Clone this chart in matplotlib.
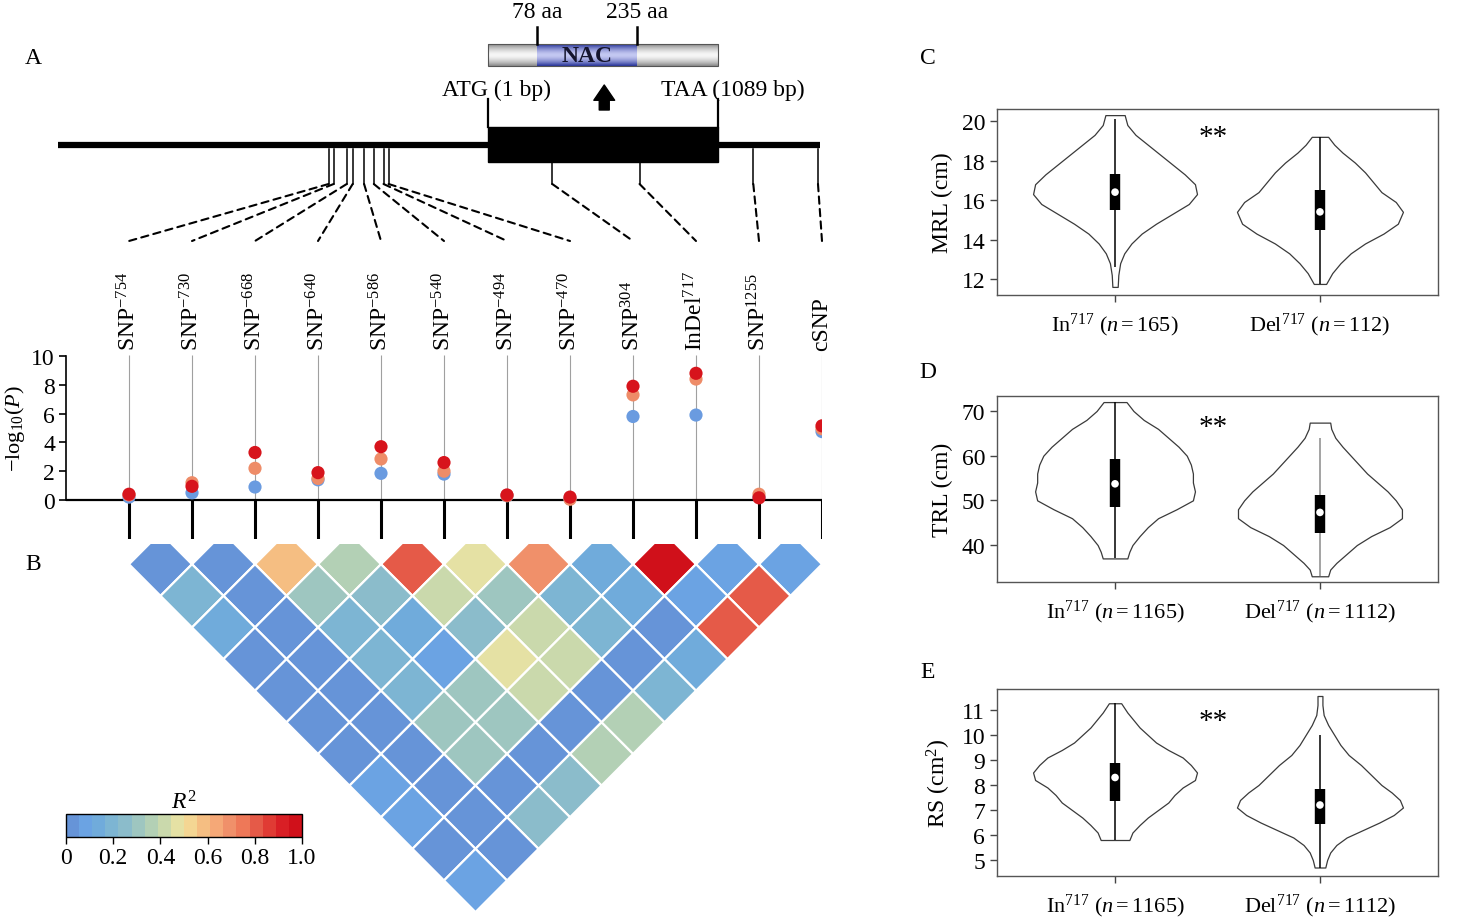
import numpy as np
import matplotlib
matplotlib.use('Agg')
import matplotlib.pyplot as plt
from matplotlib.colors import ListedColormap, Normalize, LinearSegmentedColormap
from matplotlib.patches import Polygon, Rectangle, ConnectionPatch, FancyArrowPatch
from matplotlib.cm import ScalarMappable

plt.rcParams['font.family'] = ['Liberation Serif', 'DejaVu Serif']
plt.rcParams['mathtext.fontset'] = 'custom'
plt.rcParams['mathtext.rm'] = 'Liberation Serif'
plt.rcParams['mathtext.it'] = 'Liberation Serif:italic'
plt.rcParams['mathtext.bf'] = 'Liberation Serif:bold'

# ---- data ----
marker_labels = [r'SNP$^{-754}$', r'SNP$^{-730}$', r'SNP$^{-668}$', r'SNP$^{-640}$',
                 r'SNP$^{-586}$', r'SNP$^{-540}$', r'SNP$^{-494}$', r'SNP$^{-470}$',
                 r'SNP$^{304}$', r'InDel$^{717}$', r'SNP$^{1255}$', 'cSNP']
marker_bp = [-754, -730, -668, -640, -586, -540, -494, -470, 304, 717, 1255, 1561]

# -log10(P) for the three traits
logp_blue = [0.2, 0.5, 0.9, 1.4, 1.85, 1.8, 0.3, 0.1, 5.8, 5.9, 0.2, 4.75]
logp_orange = [0.35, 1.2, 2.2, 1.5, 2.85, 2.0, 0.3, 0.05, 7.3, 8.4, 0.4, 4.95]
logp_red = [0.4, 0.95, 3.3, 1.9, 3.7, 2.6, 0.35, 0.2, 7.9, 8.8, 0.15, 5.15]

# LD r2, one list per diagonal (j - i = 1, 2, ...)
ld_rows = [
    [0.03, 0.03, 0.58, 0.36, 0.80, 0.47, 0.69, 0.12, 0.97, 0.08, 0.08],
    [0.19, 0.03, 0.31, 0.25, 0.42, 0.31, 0.19, 0.14, 0.08, 0.80],
    [0.14, 0.03, 0.19, 0.14, 0.25, 0.42, 0.19, 0.03, 0.80],
    [0.03, 0.03, 0.19, 0.08, 0.47, 0.42, 0.03, 0.14],
    [0.03, 0.03, 0.19, 0.31, 0.42, 0.03, 0.19],
    [0.03, 0.03, 0.31, 0.31, 0.03, 0.36],
    [0.03, 0.03, 0.31, 0.03, 0.36],
    [0.08, 0.03, 0.03, 0.25],
    [0.08, 0.03, 0.25],
    [0.03, 0.03],
    [0.08],
]
ld_colors = ['#6694d8', '#6ba3e3', '#70abdb', '#7db5d3', '#8bbccb', '#9ec6c0',
             '#b3d0b5', '#cad9ac', '#e5e1a4', '#f4d693', '#f5be82', '#f5a877',
             '#f0906a', '#ee7858', '#e55a48', '#e03b34', '#d91f25', '#d0101a']

# violin panels: outline profile (value, half width) + box stats
ylabels = ['MRL (cm)', 'TRL (cm)', r'RS (cm$^2$)']
xlabels = [[r'In$^{717}$ ($n=165$)', r'Del$^{717}$ ($n=112$)'],
           [r'In$^{717}$ ($n=1165$)', r'Del$^{717}$ ($n=1112$)'],
           [r'In$^{717}$ ($n=1165$)', r'Del$^{717}$ ($n=1112$)']]
yticks = [[12, 14, 16, 18, 20], [40, 50, 60, 70], [5, 6, 7, 8, 9, 10, 11]]
ylims = [(11.19, 20.61), (31.72, 73.36), (4.36, 11.84)]
star_y = [19.2, 66.4, 10.55]

mrl_in_y = [11.6, 12.2, 12.8, 13.3, 13.8, 14.3, 14.8, 15.3, 15.8, 16.3, 16.8, 17.3, 17.8, 18.3, 18.8, 19.3, 19.8, 20.3]
mrl_in_w = [0.013, 0.016, 0.025, 0.045, 0.08, 0.13, 0.20, 0.28, 0.36, 0.40, 0.39, 0.34, 0.28, 0.22, 0.16, 0.10, 0.06, 0.047]
mrl_del_y = [11.75, 12.3, 12.8, 13.3, 13.8, 14.3, 14.8, 15.4, 15.9, 16.4, 16.9, 17.4, 17.9, 18.4, 18.8, 19.2]
mrl_del_w = [0.03, 0.06, 0.10, 0.15, 0.22, 0.31, 0.38, 0.405, 0.37, 0.30, 0.26, 0.22, 0.17, 0.11, 0.07, 0.04]
trl_in_y = [37, 38.5, 40, 42, 44, 46, 48, 50, 52, 54, 56, 58, 60, 62, 64, 66, 68, 70, 72]
trl_in_w = [0.06, 0.07, 0.085, 0.12, 0.16, 0.21, 0.30, 0.38, 0.39, 0.38, 0.38, 0.37, 0.35, 0.31, 0.26, 0.21, 0.14, 0.09, 0.056]
trl_del_y = [33, 34.5, 36, 38, 40, 42, 44, 46, 48, 50, 52, 54, 56, 58, 60, 62, 64, 66, 67.4]
trl_del_w = [0.04, 0.05, 0.08, 0.13, 0.18, 0.25, 0.34, 0.40, 0.40, 0.37, 0.33, 0.28, 0.23, 0.19, 0.15, 0.11, 0.075, 0.055, 0.05]
rs_in_y = [5.8, 6.1, 6.4, 6.7, 7.0, 7.3, 7.6, 7.9, 8.2, 8.5, 8.8, 9.1, 9.4, 9.7, 10.0, 10.3, 10.6, 10.9, 11.27]
rs_in_w = [0.07, 0.085, 0.12, 0.16, 0.21, 0.26, 0.29, 0.33, 0.39, 0.40, 0.37, 0.33, 0.26, 0.20, 0.16, 0.12, 0.09, 0.06, 0.03]
rs_del_y = [4.7, 5.0, 5.3, 5.6, 5.9, 6.2, 6.5, 6.8, 7.1, 7.4, 7.7, 8.0, 8.4, 8.8, 9.2, 9.6, 10.0, 10.4, 10.8, 11.2, 11.56]
rs_del_w = [0.026, 0.035, 0.05, 0.08, 0.13, 0.21, 0.29, 0.36, 0.405, 0.39, 0.35, 0.30, 0.25, 0.20, 0.14, 0.10, 0.07, 0.04, 0.018, 0.012, 0.012]
profiles = [[(mrl_in_y, mrl_in_w), (mrl_del_y, mrl_del_w)],
            [(trl_in_y, trl_in_w), (trl_del_y, trl_del_w)],
            [(rs_in_y, rs_in_w), (rs_del_y, rs_del_w)]]
# (whisker low, q1, median, q3, whisker high)
boxes = [[(12.6, 15.5, 16.4, 17.3, 20.1), (11.75, 14.5, 15.4, 16.5, 19.2)],
         [(37, 48.5, 53.7, 59.3, 72), (33, 42.8, 47.3, 51.3, 64)],
         [(5.8, 7.35, 8.3, 8.9, 11.27), (4.7, 6.45, 7.2, 7.85, 10.0)]]
whisker_colors = [['black', 'black'], ['black', '#8a8a8a'], ['black', 'black']]

# gene model (bp)
gene_start, gene_end = -2034, 1570
cds_start, cds_end = 1, 1089
nac_start, nac_end = 78, 235  # aa

W, H = 1471, 920
fig = plt.figure(figsize=(W / 100, H / 100), dpi=100)


def add_ax(x0, y0, x1, y1):
    return fig.add_axes([x0 / W, 1 - y1 / H, (x1 - x0) / W, (y1 - y0) / H])


FS = 16

# ---- A: gene structure ----
axg = add_ax(66, 0, 822, 242)
axg.axis('off')
axg.plot([gene_start, gene_end], [146, 146], color='black', lw=4.5, solid_capstyle='butt', clip_on=False)
axg.add_patch(Rectangle((cds_start, 128), cds_end - cds_start, 35, color='black'))
axg.plot([cds_start, cds_start], [100, 128], color='black', lw=1.6)
axg.plot([cds_end, cds_end], [100, 128], color='black', lw=1.6)
axg.text(40, 90, 'ATG (1 bp)', ha='center', va='center', fontsize=FS + 1)
axg.text(1160, 90, 'TAA (1089 bp)', ha='center', va='center', fontsize=FS + 1)

# protein bar with NAC domain
grad = np.abs(np.linspace(-1, 1, 40))[:, None] ** 1.6
grey_cm = LinearSegmentedColormap.from_list('g', ['#f6f6f6', '#8c8c8c'])
blue_cm = LinearSegmentedColormap.from_list('b', ['#c4c8f2', '#28359a'])
axg.imshow(grad, extent=[0, nac_start * 3, 67, 45], cmap=grey_cm, aspect='auto', interpolation='bilinear')
axg.imshow(grad, extent=[nac_end * 3, cds_end, 67, 45], cmap=grey_cm, aspect='auto', interpolation='bilinear')
axg.imshow(grad, extent=[nac_start * 3, nac_end * 3, 67, 45], cmap=blue_cm, aspect='auto', interpolation='bilinear')
axg.add_patch(Rectangle((0, 45), cds_end, 22, fill=False, ec='#555555', lw=0.8))
for aa in (nac_start, nac_end):
    axg.plot([aa * 3, aa * 3], [28, 45], color='black', lw=1.8)
    axg.text(aa * 3, 12, f'{aa} aa', ha='center', va='center', fontsize=FS + 1)
axg.text((nac_start + nac_end) * 1.5, 56, 'NAC', ha='center', va='center', fontsize=17,
         fontweight='bold', color='#15152e')
axg.add_patch(FancyArrowPatch((550, 111), (550, 86),
                              arrowstyle='simple,head_length=0.55,head_width=0.75,tail_width=0.36',
                              mutation_scale=20, color='black', shrinkA=0, shrinkB=0))
axg.set_xlim(-1996, 1580)
axg.set_ylim(242, 0)

for bp in marker_bp:
    top = 163 if cds_start <= bp <= cds_end else 150
    axg.plot([bp, bp], [top, 185], color='black', lw=1.1)

# ---- association ----
axs = add_ax(66, 242, 822, 540)
xk = np.arange(len(marker_labels))
axs.set_xlim(-1, 11)
axs.set_ylim(-2.71, 17.99)
for s in ['top', 'right', 'bottom']:
    axs.spines[s].set_visible(False)
axs.spines['left'].set_bounds(0, 10)
axs.spines['left'].set_linewidth(1.2)
axs.set_xticks([])
axs.set_yticks(range(0, 11, 2))
axs.tick_params(axis='y', labelsize=FS + 1, length=5, width=1.2, pad=3)
axs.axhline(0, color='black', lw=1.6)
axs.vlines(xk, -2.71, 0, color='black', lw=2.2)
axs.vlines(xk, 0, 10.1, color='#a0a0a0', lw=0.8, zorder=1)
axs.scatter(xk, logp_blue, s=90, color='#6a9be0', zorder=3, edgecolor='none')
axs.scatter(xk, logp_orange, s=90, color='#ee8c68', zorder=4, edgecolor='none')
axs.scatter(xk, logp_red, s=90, color='#d7141c', zorder=5, edgecolor='none')
for k, lab in enumerate(marker_labels):
    axs.text(k, 10.45, lab, rotation=90, ha='center', va='bottom', fontsize=FS + 1)
axs.set_ylabel(r'$-$log$_{10}$($P$)', fontsize=FS)
axs.yaxis.set_label_coords(-0.051, (5 + 2.71) / 20.7)

for k, bp in enumerate(marker_bp):
    con = ConnectionPatch(xyA=(bp, 185), coordsA=axg.transData, xyB=(k, 17.99), coordsB=axs.transData,
                          ls=(0, (3.5, 2.5)), lw=1.5, color='black')
    fig.add_artist(con)

# ---- B: LD heatmap ----
cmap = ListedColormap(ld_colors)
norm = Normalize(0, 1)
axh = add_ax(66, 545, 822, 915)
axh.axis('off')
for d, row in enumerate(ld_rows):
    for i, r2 in enumerate(row):
        j = i + d + 1
        xc, yc = (i + j) / 2, -(j - i) / 2
        axh.add_patch(Polygon([(xc - 0.5, yc), (xc, yc + 0.5), (xc + 0.5, yc), (xc, yc - 0.5)],
                              closed=True, fc=cmap(norm(r2)), ec='white', lw=1.6))
axh.set_xlim(-1, 11)
axh.set_ylim(-6.03, -0.18)

cax = add_ax(66, 815, 302, 838)
cb = fig.colorbar(ScalarMappable(norm=norm, cmap=cmap), cax=cax, orientation='horizontal',
                  ticks=[0, 0.2, 0.4, 0.6, 0.8, 1.0])
cb.ax.set_xticklabels(['0', '0.2', '0.4', '0.6', '0.8', '1.0'])
cb.ax.tick_params(labelsize=FS + 1, length=5, width=1, pad=2)
cb.outline.set_linewidth(1)
cax.set_title('$R^2$', fontsize=FS + 1, pad=4)

# ---- C-E: violins ----
violin_boxes = [(110, 296), (397, 583), (690, 877)]
for p in range(3):
    y0, y1 = violin_boxes[p]
    ax = add_ax(997, y0, 1438, y1)
    stats = []
    for (yy, ww), b in zip(profiles[p], boxes[p]):
        stats.append({'coords': np.array(yy), 'vals': np.array(ww), 'mean': b[2], 'median': b[2],
                      'min': b[0], 'max': b[4], 'quantiles': []})
    parts = ax.violin(stats, positions=[1, 2], widths=[2 * max(w) for _, w in profiles[p]],
                      showmeans=False, showextrema=False, showmedians=False)
    for body in parts['bodies']:
        body.set_facecolor('white')
        body.set_edgecolor('#3a3a3a')
        body.set_linewidth(0.9)
        body.set_alpha(1)
    for pos, b, wc in zip([1, 2], boxes[p], whisker_colors[p]):
        ax.vlines(pos, b[0], b[4], color=wc, lw=1.1, zorder=3)
        ax.vlines(pos, b[1], b[3], color='black', lw=7.5, zorder=4)
        ax.scatter([pos], [b[2]], s=30, color='white', zorder=5, edgecolor='none')
    ax.text(1.48, star_y[p], '**', ha='center', va='center', fontsize=21)
    ax.set_xlim(0.424, 2.576)
    ax.set_ylim(*ylims[p])
    ax.set_yticks(yticks[p])
    ax.set_xticks([1, 2])
    ax.set_xticklabels(xlabels[p])
    ax.tick_params(axis='y', labelsize=FS + 1, length=5, width=1, color='#444444')
    ax.tick_params(axis='x', labelsize=FS, length=5, width=1, color='#444444', pad=6)
    ax.set_ylabel(ylabels[p], fontsize=FS + 1, labelpad=6)
    for s in ax.spines.values():
        s.set_color('#555555')
        s.set_linewidth(1)

# panel letters
for lab, (x, y) in zip(['A', 'B', 'C', 'D', 'E'], [(33, 58), (33, 565), (928, 58), (928, 373), (928, 673)]):
    fig.text(x / W, 1 - y / H, lab, fontsize=FS + 1, ha='center', va='center')

fig.savefig('out.png', dpi=100)
